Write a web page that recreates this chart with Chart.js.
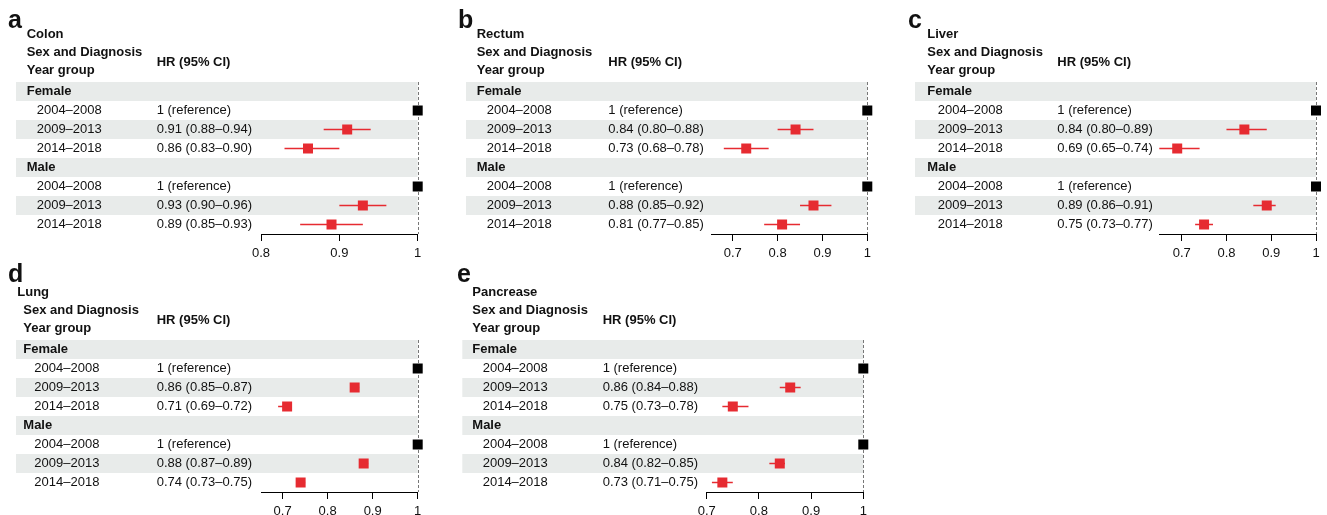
<!DOCTYPE html>
<html lang="en">
<head>
<meta charset="UTF-8">
<title>Hazard ratios by cancer site</title>
<script src="https://cdn.jsdelivr.net/npm/chart.js"></script>
<style>
    html, body { margin: 0; padding: 0; background: #fff; overflow: hidden; }
    #page { position: relative; width: 1327px; height: 515px; overflow: hidden; }
    #page canvas { position: absolute; left: 0; top: 0; }
</style>
</head>
<body>
<div id="page"></div>
<script>
// ---- data ----
const letters = ['a', 'b', 'c', 'd', 'e'];
const sites = ['Colon', 'Rectum', 'Liver', 'Lung', 'Pancrease'];
const sexes = ['Female', 'Male'];
const yearGroups = ['2004–2008', '2009–2013', '2014–2018'];

// order: Female 2004-08, 2009-13, 2014-18, Male 2004-08, 2009-13, 2014-18
const colonHR = [1, 0.91, 0.86, 1, 0.93, 0.89];
const colonLo = [null, 0.88, 0.83, null, 0.90, 0.85];
const colonHi = [null, 0.94, 0.90, null, 0.96, 0.93];

const rectumHR = [1, 0.84, 0.73, 1, 0.88, 0.81];
const rectumLo = [null, 0.80, 0.68, null, 0.85, 0.77];
const rectumHi = [null, 0.88, 0.78, null, 0.92, 0.85];

const liverHR = [1, 0.84, 0.69, 1, 0.89, 0.75];
const liverLo = [null, 0.80, 0.65, null, 0.86, 0.73];
const liverHi = [null, 0.89, 0.74, null, 0.91, 0.77];

const lungHR = [1, 0.86, 0.71, 1, 0.88, 0.74];
const lungLo = [null, 0.85, 0.69, null, 0.87, 0.73];
const lungHi = [null, 0.87, 0.72, null, 0.89, 0.75];

const pancHR = [1, 0.86, 0.75, 1, 0.84, 0.73];
const pancLo = [null, 0.84, 0.73, null, 0.82, 0.71];
const pancHi = [null, 0.88, 0.78, null, 0.85, 0.75];

const colonTicks = [0.8, 0.9, 1];
const otherTicks = [0.7, 0.8, 0.9, 1];
const axisMin = [0.8, 0.653, 0.65, 0.652, 0.7];

const hrSets = [colonHR, rectumHR, liverHR, lungHR, pancHR];
const loSets = [colonLo, rectumLo, liverLo, lungLo, pancLo];
const hiSets = [colonHi, rectumHi, liverHi, lungHi, pancHi];
const tickSets = [colonTicks, otherTicks, otherTicks, otherTicks, otherTicks];

// ---- layout (pixels on the page) ----
const W = 1327, H = 530;
const AXIS_H = 30; // forced height of the x axis box
const layout = [
    { plotL: 261,    plotR: 417.7, top: 82,  bottom: 234, shadeL: 16,    letterX: 8,     letterY: 28,  titleX: 26.7,  headX: 26.7,  yearX: 36.7,  hrX: 156.7 },
    { plotL: 711.7,  plotR: 867.3, top: 82,  bottom: 234, shadeL: 466,   letterX: 458,   letterY: 28,  titleX: 476.7, headX: 476.7, yearX: 486.7, hrX: 608.3 },
    { plotL: 1159.3, plotR: 1316,  top: 82,  bottom: 234, shadeL: 915,   letterX: 908,   letterY: 28,  titleX: 927.3, headX: 927.3, yearX: 937.7, hrX: 1057.3 },
    { plotL: 261,    plotR: 417.7, top: 340, bottom: 492, shadeL: 16,    letterX: 8,     letterY: 282, titleX: 17.3,  headX: 23.3,  yearX: 34.3,  hrX: 156.7 },
    { plotL: 706.7,  plotR: 863.3, top: 340, bottom: 492, shadeL: 462.3, letterX: 457,   letterY: 282, titleX: 472.3, headX: 472.3, yearX: 482.7, hrX: 602.7 }
];

const FONT = "'Liberation Sans', Arial, Helvetica, sans-serif";
const RED = '#e62b31';
const SHADE = '#e8ebea';

// rows: 0 Female, 1-3 years, 4 Male, 5-7 years
const rowIndex = [1, 2, 3, 5, 6, 7];

function hrText(hr, lo, hi) {
    if (lo === null) return '1 (reference)';
    return hr.toFixed(2) + ' (' + lo.toFixed(2) + '–' + hi.toFixed(2) + ')';
}

function forestPlugin(k) {
    const p = layout[k];
    return {
        id: 'forest' + k,
        beforeDraw(chart) {
            const { ctx, scales: { x, y } } = chart;
            ctx.save();
            ctx.fillStyle = SHADE;
            const right = x.getPixelForValue(1);
            for (let i = 0; i < 8; i += 2) {
                const y0 = y.getPixelForValue(i - 0.5);
                const y1 = y.getPixelForValue(i + 0.5);
                ctx.fillRect(p.shadeL, y0, right - p.shadeL, y1 - y0);
            }
            ctx.restore();
        },
        beforeDatasetsDraw(chart) {
            const { ctx, chartArea, scales: { x } } = chart;
            const xr = Math.round(x.getPixelForValue(1)) + 0.5;
            ctx.save();
            ctx.strokeStyle = '#777';
            ctx.lineWidth = 1;
            ctx.setLineDash([3, 2]);
            ctx.beginPath();
            ctx.moveTo(xr, chartArea.top);
            ctx.lineTo(xr, chartArea.bottom);
            ctx.stroke();
            ctx.restore();
        },
        afterDraw(chart) {
            const { ctx, chartArea, scales: { y } } = chart;
            const t = chartArea.top;
            ctx.save();
            ctx.fillStyle = '#111';
            ctx.textAlign = 'left';

            ctx.font = 'bold 25px ' + FONT;
            ctx.textBaseline = 'alphabetic';
            ctx.fillText(letters[k], p.letterX, p.letterY);

            ctx.textBaseline = 'middle';
            ctx.font = 'bold 13px ' + FONT;
            ctx.fillText(sites[k], p.titleX, t - 48);
            ctx.fillText('Sex and Diagnosis', p.headX, t - 30);
            ctx.fillText('Year group', p.headX, t - 11.5);
            ctx.fillText('HR (95% CI)', p.hrX, t - 20);

            const hr = hrSets[k], lo = loSets[k], hi = hiSets[k];
            sexes.forEach((s, si) => {
                ctx.font = 'bold 13px ' + FONT;
                ctx.fillText(s, p.headX, y.getPixelForValue(si * 4));
                ctx.font = '13px ' + FONT;
                yearGroups.forEach((g, gi) => {
                    const j = si * 3 + gi;
                    const yy = y.getPixelForValue(rowIndex[j]);
                    ctx.fillText(g, p.yearX, yy);
                    ctx.fillText(hrText(hr[j], lo[j], hi[j]), p.hrX, yy);
                });
            });
            ctx.restore();
        }
    };
}

function drawPanel(k) {
    const p = layout[k];
    const canvas = document.createElement('canvas');
    canvas.width = W;
    canvas.height = H;
    document.getElementById('page').appendChild(canvas);

    const hr = hrSets[k], lo = loSets[k], hi = hiSets[k];
    const points = hr.map((v, j) => ({ x: v, y: rowIndex[j] }));
    const colors = lo.map(v => v === null ? '#000' : RED);

    const datasets = [{
        data: points,
        pointStyle: 'rect',
        pointRadius: 7.07,
        pointHoverRadius: 7.07,
        backgroundColor: colors,
        borderWidth: 0,
        clip: false,
        order: 0
    }];
    hr.forEach((v, j) => {
        if (lo[j] === null) return;
        datasets.push({
            data: [{ x: lo[j], y: rowIndex[j] }, { x: hi[j], y: rowIndex[j] }],
            showLine: true,
            pointRadius: 0,
            borderColor: RED,
            borderWidth: 1.5,
            clip: false,
            order: 1
        });
    });

    new Chart(canvas, {
        type: 'scatter',
        data: { datasets: datasets },
        options: {
            responsive: false,
            animation: false,
            events: [],
            layout: {
                padding: { left: p.plotL, right: W - p.plotR, top: p.top, bottom: H - p.bottom - AXIS_H }
            },
            plugins: { legend: { display: false }, tooltip: { enabled: false } },
            scales: {
                x: {
                    type: 'linear',
                    min: axisMin[k],
                    max: 1,
                    afterBuildTicks: scale => { scale.ticks = tickSets[k].map(v => ({ value: v })); },
                    afterFit: scale => { scale.height = AXIS_H; },
                    grid: { display: true, drawOnChartArea: false, drawTicks: true, tickLength: 7, color: '#000' },
                    border: { display: true, color: '#000', width: 1 },
                    ticks: {
                        color: '#111',
                        padding: 5,
                        maxRotation: 0,
                        autoSkip: false,
                        font: { family: FONT, size: 13 },
                        callback: v => String(Number(v.toFixed(1)))
                    }
                },
                y: { type: 'linear', display: false, min: -0.5, max: 7.5, reverse: true }
            }
        },
        plugins: [forestPlugin(k)]
    });
}

for (let k = 0; k < 5; k++) drawPanel(k);
</script>
</body>
</html>
